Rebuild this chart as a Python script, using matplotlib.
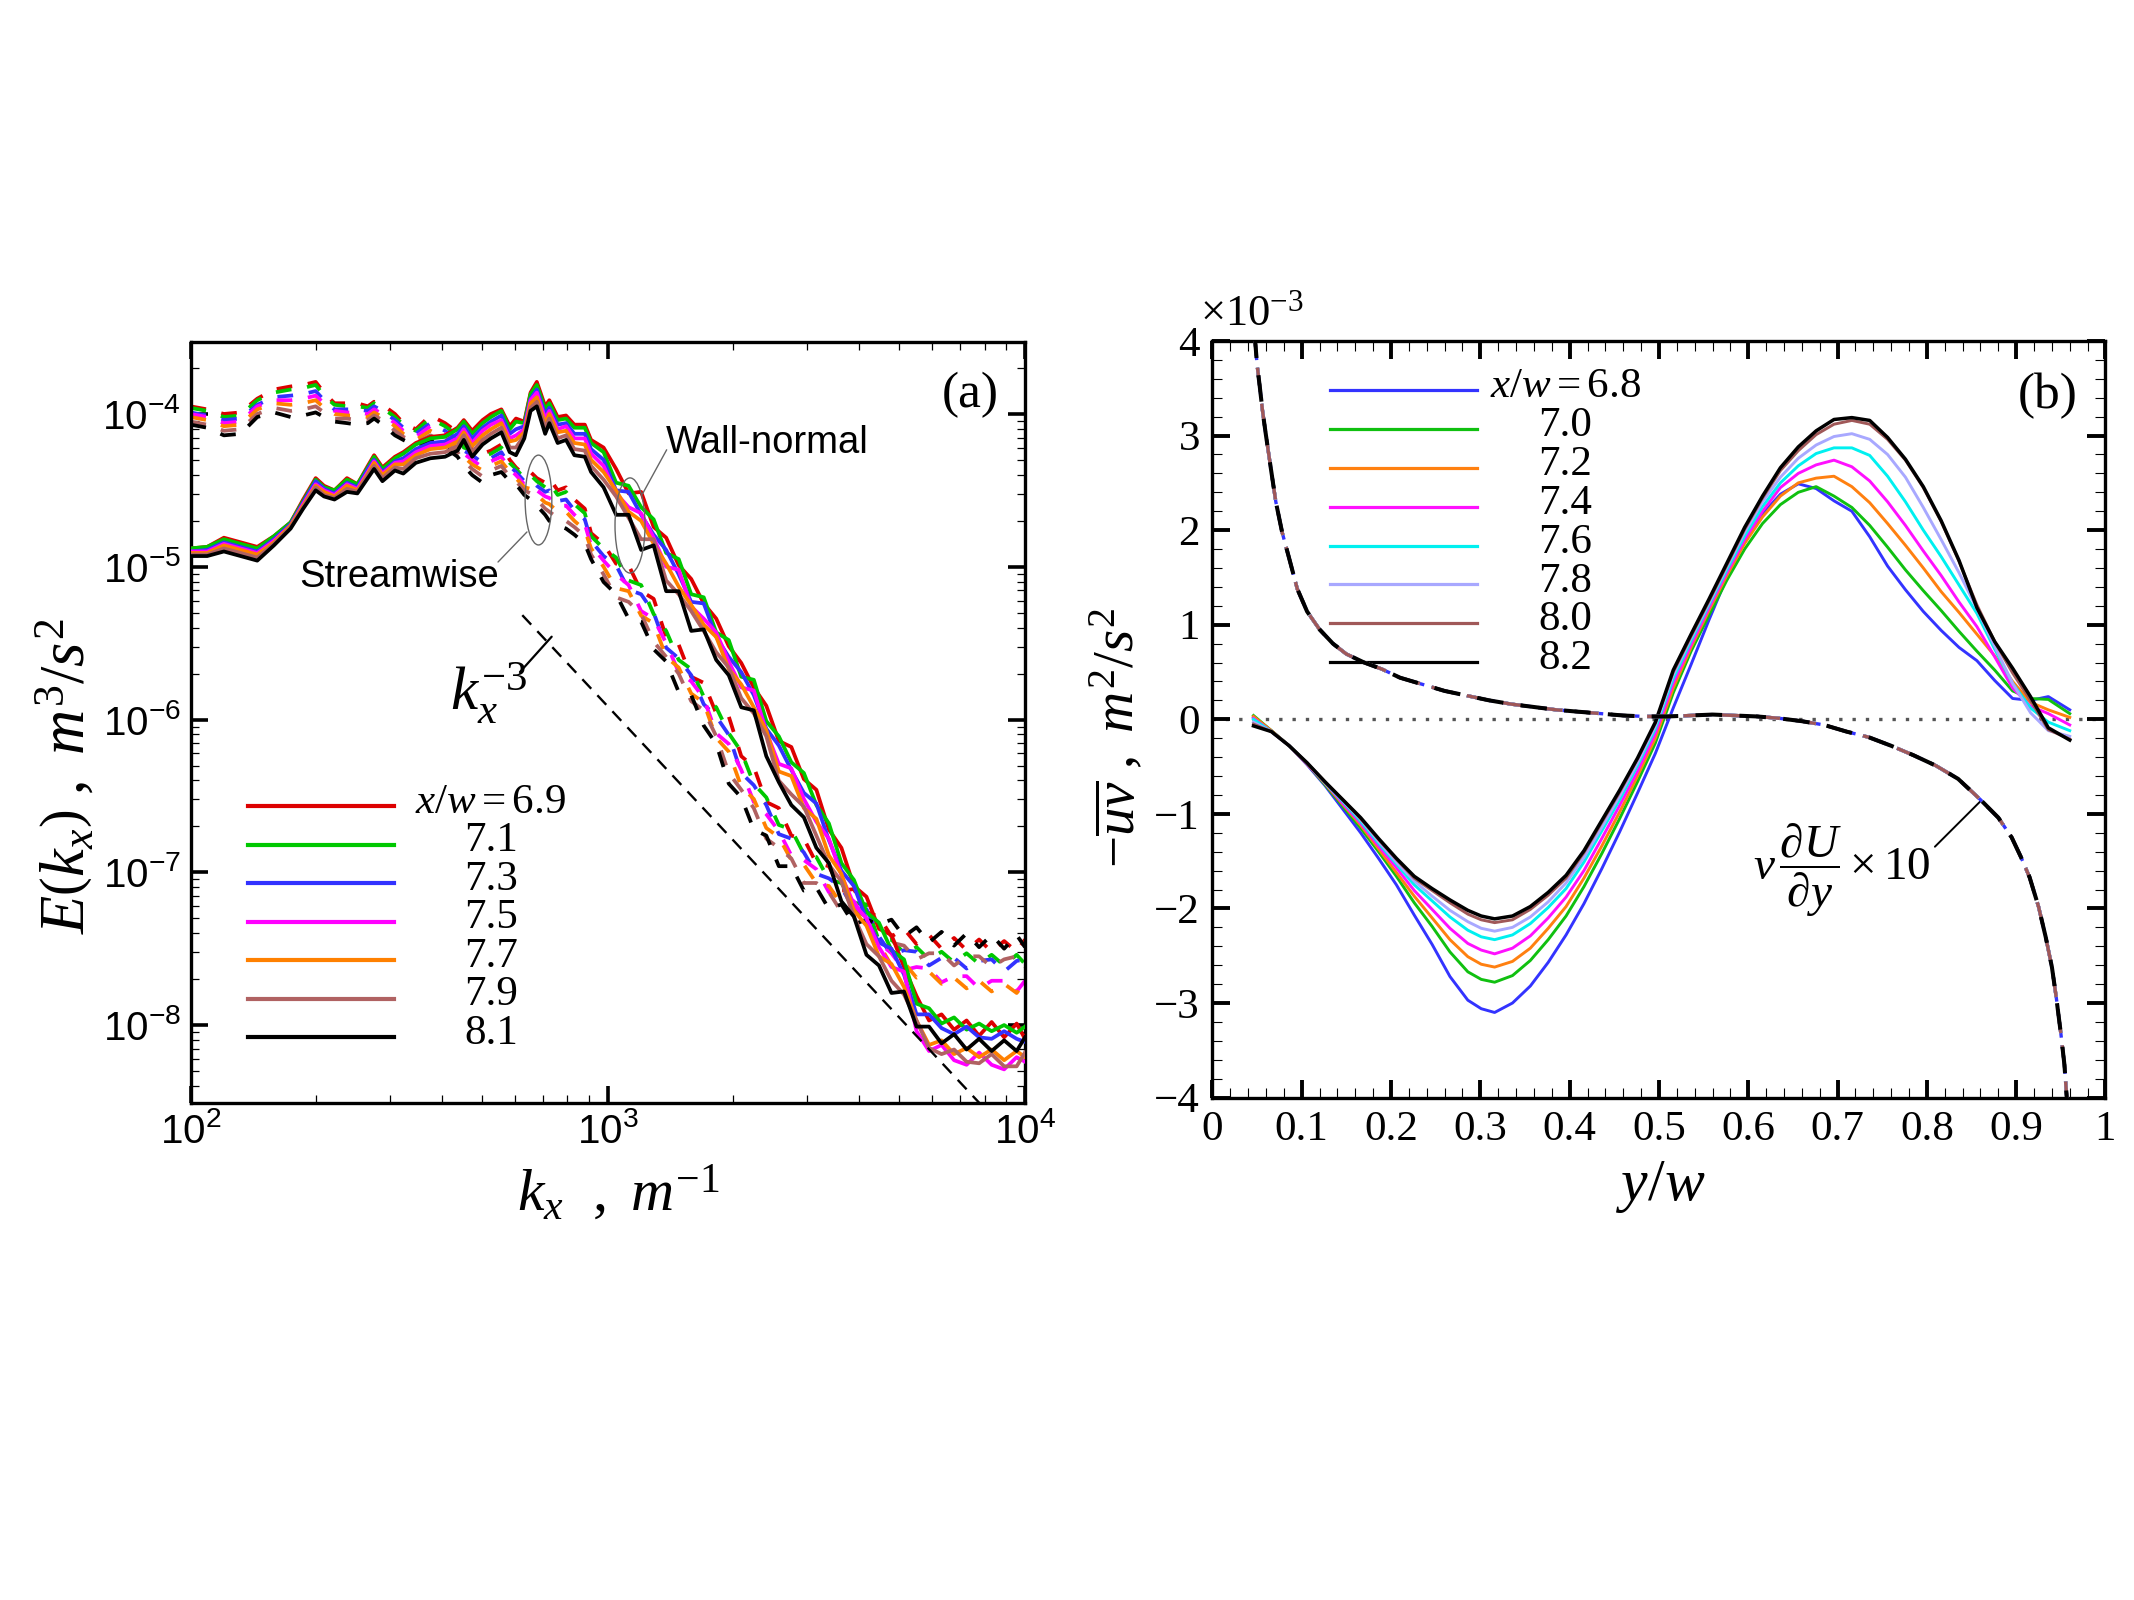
import numpy as np
import matplotlib
matplotlib.use("Agg")
import matplotlib.pyplot as plt
from matplotlib import font_manager as fm
from matplotlib.patches import Ellipse
from matplotlib.lines import Line2D
from matplotlib.ticker import LogLocator, NullFormatter, FuncFormatter, MultipleLocator

# ---------------------------------------------------------------- data (a)
log10_kx = [2.00, 2.04, 2.08, 2.12, 2.16, 2.20, 2.24, 2.27, 2.30, 2.32, 2.345, 2.375, 2.40, 2.425,
            2.44, 2.46, 2.49, 2.51, 2.54, 2.575, 2.61, 2.64, 2.655, 2.675, 2.70, 2.72, 2.745, 2.765,
            2.78, 2.80, 2.815, 2.83, 2.85, 2.86, 2.88, 2.90, 2.92, 2.945, 2.96, 2.99,
            3.02, 3.05, 3.08, 3.11, 3.14, 3.17, 3.20, 3.23, 3.26, 3.29, 3.32, 3.35, 3.38, 3.41,
            3.44, 3.47, 3.50, 3.53, 3.56, 3.59, 3.62, 3.65, 3.68, 3.71, 3.74, 3.77, 3.80, 3.83,
            3.86, 3.89, 3.92, 3.95, 3.98, 4.00]

# wall-normal spectra, log10 E(kx)
wn_69 = [-4.88, -4.87, -4.81, -4.84, -4.87, -4.80, -4.71, -4.56, -4.42, -4.47, -4.50, -4.42, -4.46, -4.34,
         -4.27, -4.35, -4.28, -4.25, -4.19, -4.15, -4.14, -4.09, -4.04, -4.11, -4.04, -4.00, -3.97, -4.08,
         -4.03, -4.05, -3.86, -3.79, -3.95, -3.91, -4.02, -4.01, -4.07, -4.07, -4.17, -4.22,
         -4.36, -4.52, -4.51, -4.74, -4.81, -4.99, -5.08, -5.24, -5.34, -5.52, -5.63, -5.79, -5.91, -6.14,
         -6.18, -6.39, -6.46, -6.72, -6.84, -7.09, -7.16, -7.37, -7.41, -7.62, -7.81, -7.97, -7.93, -8.03,
         -7.97, -8.07, -7.98, -8.08, -7.99, -8.09]
wn_71 = [-4.88, -4.87, -4.82, -4.85, -4.88, -4.80, -4.71, -4.57, -4.43, -4.48, -4.50, -4.43, -4.46, -4.35,
         -4.28, -4.36, -4.29, -4.26, -4.20, -4.16, -4.15, -4.10, -4.05, -4.13, -4.06, -4.02, -3.98, -4.10,
         -4.05, -4.06, -3.87, -3.81, -3.97, -3.93, -4.04, -4.03, -4.09, -4.09, -4.19, -4.25,
         -4.45, -4.47, -4.61, -4.69, -4.91, -4.95, -5.18, -5.20, -5.43, -5.48, -5.72, -5.74, -6.01, -6.11,
         -6.28, -6.35, -6.56, -6.68, -6.94, -7.05, -7.26, -7.33, -7.51, -7.57, -7.86, -7.89, -7.99, -7.95,
         -8.03, -7.99, -8.04, -8.00, -8.05, -8.01]
wn_73 = [-4.90, -4.89, -4.84, -4.87, -4.90, -4.82, -4.72, -4.58, -4.44, -4.49, -4.52, -4.45, -4.48, -4.36,
         -4.30, -4.38, -4.31, -4.29, -4.23, -4.19, -4.18, -4.13, -4.08, -4.16, -4.09, -4.05, -4.01, -4.13,
         -4.10, -4.08, -3.90, -3.84, -4.00, -3.96, -4.07, -4.06, -4.13, -4.13, -4.23, -4.30,
         -4.50, -4.51, -4.66, -4.79, -4.89, -5.05, -5.23, -5.24, -5.46, -5.59, -5.69, -5.84, -6.06, -6.17,
         -6.33, -6.48, -6.55, -6.79, -6.99, -7.09, -7.31, -7.46, -7.50, -7.67, -7.93, -7.93, -8.02, -8.06,
         -8.01, -8.08, -8.09, -8.04, -8.09, -8.11]
wn_75 = [-4.90, -4.90, -4.85, -4.88, -4.91, -4.83, -4.73, -4.59, -4.46, -4.50, -4.53, -4.46, -4.49, -4.38,
         -4.31, -4.39, -4.32, -4.31, -4.25, -4.21, -4.20, -4.16, -4.10, -4.19, -4.11, -4.07, -4.04, -4.16,
         -4.14, -4.10, -3.91, -3.86, -4.03, -3.98, -4.10, -4.08, -4.16, -4.16, -4.26, -4.34,
         -4.52, -4.61, -4.65, -4.81, -5.00, -5.02, -5.26, -5.34, -5.43, -5.62, -5.79, -5.81, -6.08, -6.29,
         -6.32, -6.52, -6.67, -6.78, -7.02, -7.21, -7.30, -7.49, -7.62, -7.65, -8.04, -8.17, -8.13, -8.23,
         -8.26, -8.18, -8.26, -8.29, -8.21, -8.24]
wn_77 = [-4.91, -4.91, -4.86, -4.89, -4.92, -4.84, -4.73, -4.60, -4.47, -4.51, -4.54, -4.47, -4.50, -4.39,
         -4.32, -4.40, -4.33, -4.33, -4.27, -4.23, -4.22, -4.18, -4.12, -4.21, -4.14, -4.10, -4.06, -4.18,
         -4.17, -4.12, -3.93, -3.89, -4.06, -4.00, -4.12, -4.11, -4.19, -4.20, -4.30, -4.38,
         -4.50, -4.64, -4.70, -4.85, -4.98, -5.13, -5.25, -5.38, -5.46, -5.67, -5.77, -5.92, -6.07, -6.34,
         -6.37, -6.58, -6.65, -6.89, -7.01, -7.25, -7.35, -7.55, -7.60, -7.75, -7.97, -8.13, -8.10, -8.19,
         -8.15, -8.21, -8.16, -8.23, -8.17, -8.21]
wn_79 = [-4.92, -4.92, -4.88, -4.91, -4.94, -4.85, -4.74, -4.61, -4.48, -4.53, -4.55, -4.49, -4.51, -4.40,
         -4.34, -4.42, -4.35, -4.36, -4.29, -4.26, -4.25, -4.21, -4.14, -4.25, -4.17, -4.13, -4.09, -4.22,
         -4.22, -4.14, -3.96, -3.92, -4.09, -4.03, -4.16, -4.14, -4.23, -4.24, -4.34, -4.43,
         -4.54, -4.68, -4.82, -4.82, -5.09, -5.18, -5.29, -5.42, -5.56, -5.66, -5.86, -5.96, -6.11, -6.40,
         -6.49, -6.57, -6.76, -6.95, -7.06, -7.29, -7.47, -7.55, -7.71, -7.80, -7.97, -8.15, -8.19, -8.16,
         -8.24, -8.25, -8.19, -8.27, -8.27, -8.18]
wn_81 = [-4.93, -4.93, -4.90, -4.93, -4.96, -4.86, -4.75, -4.62, -4.50, -4.54, -4.56, -4.51, -4.52, -4.42,
         -4.36, -4.44, -4.37, -4.39, -4.32, -4.29, -4.28, -4.24, -4.17, -4.28, -4.20, -4.16, -4.12, -4.25,
         -4.27, -4.16, -3.98, -3.95, -4.13, -4.06, -4.19, -4.17, -4.27, -4.28, -4.38, -4.48,
         -4.66, -4.66, -4.89, -4.86, -5.16, -5.16, -5.42, -5.41, -5.61, -5.71, -5.92, -5.94, -6.24, -6.41,
         -6.56, -6.64, -6.84, -6.94, -7.19, -7.29, -7.54, -7.61, -7.79, -7.78, -8.01, -8.01, -8.12, -8.06,
         -8.16, -8.09, -8.17, -8.10, -8.17, -8.08]

# streamwise spectra, log10 E(kx)
sw_69 = [-3.95, -3.97, -4.00, -3.99, -3.90, -3.84, -3.82, -3.81, -3.79, -3.86, -3.93, -3.93, -3.93, -3.95,
         -3.92, -3.94, -4.00, -4.06, -4.10, -4.01, -4.06, -4.12, -4.20, -4.22, -4.26, -4.24, -4.20, -4.30,
         -4.35, -4.40, -4.38, -4.42, -4.45, -4.42, -4.50, -4.48, -4.56, -4.62, -4.78, -4.85,
         -4.98, -4.99, -5.16, -5.21, -5.46, -5.51, -5.72, -5.76, -5.96, -5.98, -6.24, -6.31, -6.54, -6.58,
         -6.76, -6.78, -6.94, -6.96, -7.12, -7.11, -7.26, -7.29, -7.42, -7.37, -7.47, -7.41, -7.50, -7.43,
         -7.51, -7.44, -7.52, -7.45, -7.52, -7.44]
sw_71 = [-3.96, -3.98, -4.02, -4.01, -3.91, -3.86, -3.84, -3.83, -3.81, -3.88, -3.94, -3.95, -3.95, -3.96,
         -3.93, -3.96, -4.02, -4.07, -4.11, -4.03, -4.08, -4.14, -4.22, -4.24, -4.28, -4.26, -4.22, -4.32,
         -4.36, -4.42, -4.40, -4.44, -4.48, -4.45, -4.53, -4.51, -4.59, -4.65, -4.80, -4.88,
         -4.94, -5.09, -5.12, -5.31, -5.42, -5.61, -5.67, -5.85, -5.92, -6.09, -6.21, -6.42, -6.51, -6.69,
         -6.72, -6.88, -6.90, -7.05, -7.07, -7.20, -7.21, -7.45, -7.44, -7.53, -7.49, -7.57, -7.52, -7.59,
         -7.53, -7.60, -7.54, -7.61, -7.54, -7.60]
sw_73 = [-3.99, -4.01, -4.04, -4.03, -3.94, -3.89, -3.88, -3.87, -3.85, -3.91, -3.97, -3.97, -3.97, -3.98,
         -3.95, -3.98, -4.04, -4.09, -4.13, -4.06, -4.11, -4.17, -4.24, -4.27, -4.32, -4.29, -4.25, -4.34,
         -4.38, -4.44, -4.43, -4.47, -4.51, -4.50, -4.57, -4.56, -4.63, -4.69, -4.83, -4.93,
         -4.99, -5.15, -5.18, -5.30, -5.53, -5.60, -5.71, -5.90, -5.98, -6.10, -6.35, -6.43, -6.56, -6.75,
         -6.78, -6.87, -7.01, -7.04, -7.10, -7.24, -7.24, -7.42, -7.54, -7.51, -7.52, -7.61, -7.56, -7.56,
         -7.63, -7.58, -7.57, -7.65, -7.58, -7.57]
sw_75 = [-4.00, -4.02, -4.06, -4.05, -3.95, -3.91, -3.91, -3.90, -3.88, -3.93, -3.98, -3.99, -3.99, -4.00,
         -3.97, -4.00, -4.06, -4.11, -4.15, -4.08, -4.13, -4.19, -4.26, -4.30, -4.35, -4.31, -4.28, -4.36,
         -4.40, -4.46, -4.46, -4.50, -4.54, -4.55, -4.60, -4.60, -4.66, -4.72, -4.86, -4.96,
         -5.05, -5.12, -5.29, -5.34, -5.50, -5.69, -5.75, -5.86, -6.09, -6.16, -6.33, -6.54, -6.62, -6.73,
         -6.89, -6.92, -6.98, -7.13, -7.14, -7.19, -7.32, -7.46, -7.53, -7.64, -7.62, -7.63, -7.72, -7.68,
         -7.68, -7.76, -7.71, -7.71, -7.78, -7.71]
sw_77 = [-4.02, -4.04, -4.08, -4.07, -3.97, -3.93, -3.94, -3.93, -3.91, -3.96, -4.00, -4.01, -4.01, -4.02,
         -3.99, -4.02, -4.08, -4.13, -4.17, -4.11, -4.16, -4.22, -4.28, -4.33, -4.37, -4.34, -4.31, -4.38,
         -4.42, -4.48, -4.49, -4.53, -4.58, -4.59, -4.64, -4.64, -4.70, -4.76, -4.88, -5.00,
         -5.14, -5.16, -5.32, -5.37, -5.59, -5.66, -5.83, -5.89, -6.12, -6.21, -6.44, -6.52, -6.71, -6.77,
         -6.92, -6.95, -7.07, -7.09, -7.21, -7.21, -7.33, -7.47, -7.61, -7.59, -7.69, -7.65, -7.73, -7.69,
         -7.76, -7.71, -7.78, -7.73, -7.79, -7.72]
sw_79 = [-4.05, -4.07, -4.11, -4.10, -4.00, -3.96, -3.98, -3.97, -3.95, -3.99, -4.03, -4.03, -4.04, -4.04,
         -4.01, -4.04, -4.11, -4.15, -4.19, -4.14, -4.19, -4.25, -4.31, -4.36, -4.41, -4.37, -4.34, -4.41,
         -4.44, -4.50, -4.52, -4.56, -4.62, -4.64, -4.68, -4.70, -4.74, -4.80, -4.92, -5.05,
         -5.20, -5.23, -5.31, -5.49, -5.59, -5.70, -5.88, -5.94, -6.11, -6.35, -6.46, -6.58, -6.78, -6.84,
         -6.91, -7.07, -7.07, -7.13, -7.26, -7.25, -7.29, -7.47, -7.46, -7.48, -7.57, -7.53, -7.53, -7.61,
         -7.55, -7.55, -7.62, -7.57, -7.55, -7.62]
sw_81 = [-4.07, -4.09, -4.14, -4.13, -4.02, -3.99, -4.02, -4.01, -3.99, -4.02, -4.05, -4.06, -4.07, -4.06,
         -4.03, -4.07, -4.14, -4.17, -4.21, -4.17, -4.22, -4.28, -4.34, -4.40, -4.45, -4.40, -4.38, -4.44,
         -4.46, -4.53, -4.56, -4.60, -4.66, -4.70, -4.73, -4.75, -4.79, -4.85, -4.95, -5.10,
         -5.18, -5.34, -5.36, -5.54, -5.62, -5.82, -5.84, -6.04, -6.16, -6.42, -6.51, -6.72, -6.76, -6.96,
         -6.96, -7.12, -7.10, -7.24, -7.21, -7.34, -7.31, -7.34, -7.31, -7.42, -7.36, -7.46, -7.39, -7.48,
         -7.40, -7.49, -7.41, -7.50, -7.41, -7.49]

# k^-3 guide line (two end points)
ref_kx = [624.0, 7900.0]
ref_E = [4.82e-6, 2.95e-9]

labels_a = ['6.9', '7.1', '7.3', '7.5', '7.7', '7.9', '8.1']
colors_a = ['#dd0000', '#00c800', '#3232ff', '#ff00ff', '#ff8000', '#b06262', '#000000']

# ---------------------------------------------------------------- data (b)
y_w = [0.046, 0.066, 0.086, 0.106, 0.126, 0.146, 0.166, 0.186, 0.206, 0.226, 0.246, 0.266, 0.286,
       0.301, 0.316, 0.336, 0.356, 0.376, 0.396, 0.416, 0.436, 0.456, 0.476, 0.496, 0.516, 0.536,
       0.556, 0.576, 0.596, 0.616, 0.636, 0.656, 0.676, 0.696, 0.716, 0.736, 0.756, 0.776, 0.796,
       0.816, 0.836, 0.856, 0.876, 0.896, 0.916, 0.936, 0.960]
uv_68 = [0.02, -0.12, -0.28, -0.48, -0.70, -0.95, -1.20, -1.47, -1.75, -2.07, -2.38, -2.72, -2.97, -3.06,
         -3.10, -3.00, -2.82, -2.57, -2.28, -1.95, -1.58, -1.19, -0.78, -0.36,
         0.12, 0.58, 1.05, 1.50, 1.88, 2.17, 2.38, 2.49, 2.44, 2.31, 2.20, 1.93, 1.62, 1.37, 1.14, 0.94,
         0.76, 0.62, 0.41, 0.22, 0.20, 0.24, 0.10]
uv_70 = [0.04, -0.12, -0.28, -0.47, -0.69, -0.92, -1.15, -1.40, -1.66, -1.94, -2.19, -2.46, -2.67, -2.75,
         -2.78, -2.71, -2.55, -2.33, -2.08, -1.77, -1.42, -1.05, -0.66, -0.25,
         0.28, 0.72, 1.10, 1.47, 1.80, 2.07, 2.27, 2.40, 2.46, 2.36, 2.24, 2.05, 1.82, 1.58, 1.36, 1.15,
         0.93, 0.72, 0.52, 0.30, 0.22, 0.21, 0.06]
uv_72 = [0.03, -0.12, -0.28, -0.47, -0.68, -0.90, -1.12, -1.37, -1.62, -1.87, -2.10, -2.33, -2.51, -2.59,
         -2.62, -2.56, -2.42, -2.21, -1.98, -1.68, -1.34, -0.98, -0.60, -0.20,
         0.33, 0.76, 1.15, 1.52, 1.86, 2.14, 2.36, 2.50, 2.55, 2.57, 2.46, 2.29, 2.07, 1.84, 1.60, 1.35,
         1.13, 0.90, 0.67, 0.40, 0.18, 0.10, 0.02]
uv_74 = [0.01, -0.13, -0.28, -0.47, -0.67, -0.89, -1.10, -1.34, -1.57, -1.81, -2.01, -2.21, -2.37, -2.44,
         -2.48, -2.42, -2.29, -2.10, -1.88, -1.60, -1.26, -0.91, -0.55, -0.15,
         0.38, 0.79, 1.18, 1.55, 1.90, 2.20, 2.45, 2.60, 2.69, 2.74, 2.67, 2.52, 2.30, 2.05, 1.78, 1.52,
         1.24, 0.98, 0.66, 0.33, 0.14, 0.06, -0.06]
uv_76 = [0.00, -0.13, -0.28, -0.46, -0.67, -0.87, -1.08, -1.31, -1.53, -1.75, -1.92, -2.09, -2.23, -2.30,
         -2.33, -2.28, -2.16, -1.99, -1.79, -1.51, -1.18, -0.85, -0.49, -0.10,
         0.43, 0.83, 1.21, 1.58, 1.94, 2.25, 2.50, 2.68, 2.81, 2.87, 2.87, 2.79, 2.57, 2.30, 2.00, 1.72,
         1.42, 1.12, 0.74, 0.38, 0.12, -0.03, -0.12]
uv_78 = [-0.03, -0.13, -0.28, -0.46, -0.67, -0.86, -1.06, -1.29, -1.51, -1.71, -1.87, -2.02, -2.14, -2.21,
         -2.24, -2.20, -2.09, -1.93, -1.73, -1.46, -1.14, -0.81, -0.46, -0.07,
         0.47, 0.86, 1.23, 1.61, 1.98, 2.30, 2.56, 2.76, 2.90, 2.99, 3.02, 2.96, 2.80, 2.56, 2.24, 1.90,
         1.55, 1.17, 0.77, 0.38, 0.07, -0.12, -0.18]
uv_80 = [-0.05, -0.13, -0.28, -0.46, -0.66, -0.85, -1.05, -1.27, -1.48, -1.68, -1.81, -1.94, -2.06, -2.12,
         -2.15, -2.12, -2.01, -1.86, -1.68, -1.41, -1.09, -0.77, -0.42, -0.04,
         0.50, 0.88, 1.25, 1.63, 2.01, 2.34, 2.63, 2.84, 3.01, 3.12, 3.16, 3.12, 2.96, 2.74, 2.45, 2.09,
         1.67, 1.21, 0.82, 0.49, 0.20, -0.11, -0.21]
uv_82 = [-0.07, -0.13, -0.28, -0.46, -0.66, -0.85, -1.04, -1.26, -1.47, -1.66, -1.79, -1.91, -2.02, -2.08,
         -2.11, -2.08, -1.98, -1.83, -1.65, -1.39, -1.07, -0.75, -0.41, -0.03,
         0.52, 0.90, 1.27, 1.65, 2.03, 2.36, 2.66, 2.88, 3.05, 3.17, 3.19, 3.16, 2.98, 2.75, 2.46, 2.10,
         1.68, 1.18, 0.82, 0.54, 0.24, -0.09, -0.22]

# viscous stress  nu dU/dy x 10  (all stations collapse on one curve)
y_visc = [0.047, 0.050, 0.053, 0.056, 0.060, 0.065, 0.071, 0.078, 0.086, 0.095, 0.106, 0.120, 0.135,
          0.150, 0.170, 0.190, 0.210, 0.235, 0.260, 0.285, 0.310, 0.335, 0.360, 0.385, 0.410, 0.435,
          0.460, 0.485, 0.510, 0.535, 0.560, 0.585, 0.610, 0.635, 0.660, 0.685, 0.710, 0.735, 0.760,
          0.785, 0.810, 0.835, 0.860, 0.880, 0.895, 0.905, 0.915, 0.925, 0.933, 0.940, 0.945, 0.950,
          0.954, 0.957]
visc = [4.10, 3.75, 3.52, 3.27, 3.00, 2.68, 2.30, 1.98, 1.70, 1.38, 1.14, 0.95, 0.80, 0.69, 0.60, 0.53,
        0.44, 0.37, 0.30, 0.25, 0.20, 0.16, 0.13, 0.10, 0.08, 0.06, 0.04, 0.03, 0.03, 0.04, 0.05, 0.04,
        0.03, 0.01, -0.02, -0.06, -0.13, -0.19, -0.28, -0.38, -0.49, -0.63, -0.85, -1.04, -1.25, -1.45,
        -1.67, -1.98, -2.30, -2.62, -2.95, -3.32, -3.65, -4.05]

labels_b = ['6.8', '7.0', '7.2', '7.4', '7.6', '7.8', '8.0', '8.2']
colors_b = ['#3333ff', '#10c010', '#ff8010', '#ff10ff', '#00f0f0', '#a8a8ff', '#a05858', '#000000']

# ---------------------------------------------------------------- style
names = {f.name for f in fm.fontManager.ttflist}
SANS = 'Liberation Sans Narrow' if 'Liberation Sans Narrow' in names else 'Liberation Sans'
plt.rcParams.update({
    'font.family': ['Liberation Serif', 'DejaVu Serif'],
    'mathtext.fontset': 'custom',
    'mathtext.rm': 'Liberation Serif',
    'mathtext.it': 'Liberation Serif:italic',
    'mathtext.bf': 'Liberation Serif:bold',
    'mathtext.sf': SANS,
    'axes.unicode_minus': True,
})

fig = plt.figure(figsize=(21.34, 16.0), dpi=100)
axA = fig.add_axes([0.08927, 0.31063, 0.39105, 0.47581])
axB = fig.add_axes([0.56814, 0.31400, 0.41850, 0.47288])

# ---------------------------------------------------------------- panel (a)
kx = 10.0 ** np.asarray(log10_kx)
sw_all = [sw_69, sw_71, sw_73, sw_75, sw_77, sw_79, sw_81]
wn_all = [wn_69, wn_71, wn_73, wn_75, wn_77, wn_79, wn_81]
for vals, col in zip(sw_all, colors_a):
    axA.plot(kx, 10.0 ** np.asarray(vals), color=col, lw=2.7, ls=(0, (4.2, 4.2)),
             dash_capstyle='butt', zorder=2)
for vals, col in zip(wn_all, colors_a):
    axA.plot(kx, 10.0 ** np.asarray(vals), color=col, lw=2.7, zorder=3)
axA.plot(ref_kx, ref_E, color='black', lw=1.7, ls=(0, (5.5, 3.8)), zorder=4)

axA.set_xscale('log')
axA.set_yscale('log')
axA.set_xlim(1e2, 1e4)
axA.set_ylim(10 ** -8.51, 10 ** -3.527)


def log_fmt(v, pos):
    e = int(round(np.log10(v)))
    return r'$\mathsf{10^{%d}}$' % e


for axis in (axA.xaxis, axA.yaxis):
    axis.set_major_locator(LogLocator(base=10, numticks=20))
    axis.set_minor_locator(LogLocator(base=10, subs=np.arange(2, 10) * 1.0, numticks=40))
    axis.set_major_formatter(FuncFormatter(log_fmt))
    axis.set_minor_formatter(NullFormatter())
axA.tick_params(which='major', direction='in', length=12.5, width=2.6, top=True, right=True,
                labelsize=29, pad=7)
axA.tick_params(which='minor', direction='in', length=6, width=0.9, top=True, right=True)
for s in axA.spines.values():
    s.set_linewidth(2.4)

axA.set_ylabel(r'$E\left(k_x\right)\ ,\ m^3/s^2$', fontsize=45, va='center')
axA.yaxis.set_label_coords(-0.147, 0.43)
axA.set_xlabel(r'$k_x\ \ ,\ m^{-1}$', fontsize=43, va='center')
axA.xaxis.set_label_coords(0.513, -0.1195)

axA.text(0.934, 0.930, '(a)', transform=axA.transAxes, ha='center', va='center', fontsize=37)
axA.text(0.6914, 0.8538, 'Wall-normal', transform=axA.transAxes, ha='center', va='baseline',
         fontsize=27.5, family='Liberation Sans')
axA.text(0.2498, 0.6778, 'Streamwise', transform=axA.transAxes, ha='center', va='baseline',
         fontsize=27.5, family='Liberation Sans')
axA.add_patch(Ellipse((0.417, 0.792), 0.032, 0.118, transform=axA.transAxes, fill=False,
                      ec='#666666', lw=1.0, zorder=5))
axA.add_patch(Ellipse((0.5267, 0.7586), 0.036, 0.125, transform=axA.transAxes, fill=False,
                      ec='#666666', lw=1.0, zorder=5))
lead = dict(arrowstyle='-', color='#666666', lw=1.0, shrinkA=0, shrinkB=0)
axA.annotate('', xy=(0.5416, 0.800), xytext=(0.5706, 0.858), xycoords='axes fraction',
             textcoords='axes fraction', arrowprops=lead)
axA.annotate('', xy=(0.4032, 0.7501), xytext=(0.3685, 0.7106), xycoords='axes fraction',
             textcoords='axes fraction', arrowprops=lead)
axA.text(0.311, 0.516, r'$k_x^{-3}$', transform=axA.transAxes, ha='left', va='baseline', fontsize=44)
axA.annotate('', xy=(0.4328, 0.6125), xytext=(0.3948, 0.5661), xycoords='axes fraction',
             textcoords='axes fraction',
             arrowprops=dict(arrowstyle='-', color='black', lw=1.6, shrinkA=0, shrinkB=0))

# legend (a)
leg_y0, leg_dy = 0.3897, 0.0506
for i, (lab, col) in enumerate(zip(labels_a, colors_a)):
    yy = leg_y0 - i * leg_dy
    axA.add_line(Line2D([0.0695, 0.2439], [yy, yy], transform=axA.transAxes, color=col, lw=3.0))
    txt = r'$x/w = %s$' % lab if i == 0 else lab
    axA.text(0.360, yy + 0.005, txt, transform=axA.transAxes, ha='center', va='center', fontsize=31)

# ---------------------------------------------------------------- panel (b)
axB.axhline(0.0, color='#555555', lw=2.4, ls=(0, (1, 3)), zorder=1)
uv_all = [uv_68, uv_70, uv_72, uv_74, uv_76, uv_78, uv_80, uv_82]
for vals, col in zip(uv_all, colors_b):
    axB.plot(y_w, vals, color=col, lw=2.1 if col != '#000000' else 2.5, zorder=3)
# viscous stress (dashed, identical for all stations)
axB.plot(y_visc, visc, color=colors_b[0], lw=2.4, ls=(0, (8.6, 2.3)), dash_capstyle='butt', zorder=4)
for col in colors_b[1:-1]:
    axB.plot(y_visc, visc, color=col, lw=2.4, ls=(0, (7.2, 3.7)), dash_capstyle='butt', zorder=4)
axB.plot(y_visc, visc, color='black', lw=2.9, ls=(0, (6.6, 4.3)), dash_capstyle='butt', zorder=5)

axB.set_xlim(0, 1)
axB.set_ylim(-4, 4)
axB.xaxis.set_major_locator(MultipleLocator(0.1))
axB.xaxis.set_minor_locator(MultipleLocator(0.02))
axB.yaxis.set_major_locator(MultipleLocator(1))
axB.yaxis.set_minor_locator(MultipleLocator(0.2))


def fx(v, pos):
    if abs(v) < 1e-9:
        return '0'
    if abs(v - 1) < 1e-9:
        return '1'
    return '%.1f' % v


def fy(v, pos):
    return ('%d' % int(round(v))).replace('-', '\u2212')


axB.xaxis.set_major_formatter(FuncFormatter(fx))
axB.yaxis.set_major_formatter(FuncFormatter(fy))
axB.tick_params(which='major', direction='in', length=13, width=2.8, top=True, right=True,
                labelsize=31, pad=9)
axB.tick_params(which='minor', direction='in', length=7, width=0.8, top=True, right=True)
for s in axB.spines.values():
    s.set_linewidth(2.4)

axB.set_xlabel(r'$y/w$', fontsize=43, va='center')
axB.xaxis.set_label_coords(0.502, -0.118)
axB.set_ylabel(r'$-\overline{uv}\ ,\ m^2/s^2$', fontsize=41, va='center')
axB.yaxis.set_label_coords(-0.106, 0.4753)
axB.text(-0.014, 1.0211, r'$\times10^{-3}$', transform=axB.transAxes, ha='left', va='baseline',
         fontsize=32)
axB.text(0.9356, 0.928, '(b)', transform=axB.transAxes, ha='center', va='center', fontsize=37)
axB.text(0.6057, 0.2876, r'$\nu\,\dfrac{\partial U}{\partial y}\times10$', transform=axB.transAxes,
         ha='left', va='baseline', fontsize=34)
axB.annotate('', xy=(0.8595, 0.3911), xytext=(0.809, 0.3316), xycoords='axes fraction',
             textcoords='axes fraction',
             arrowprops=dict(arrowstyle='-', color='black', lw=1.4, shrinkA=0, shrinkB=0))

# legend (b)
legb_y0, legb_dy = 0.935, 0.05133
for i, (lab, col) in enumerate(zip(labels_b, colors_b)):
    yy = legb_y0 - i * legb_dy
    axB.add_line(Line2D([0.1317, 0.296], [yy, yy], transform=axB.transAxes, color=col, lw=2.3))
    txt = r'$x/w = %s$' % lab if i == 0 else lab
    axB.text(0.395, yy + 0.004, txt, transform=axB.transAxes, ha='center', va='center', fontsize=31)

fig.savefig('out.png', dpi=100)
